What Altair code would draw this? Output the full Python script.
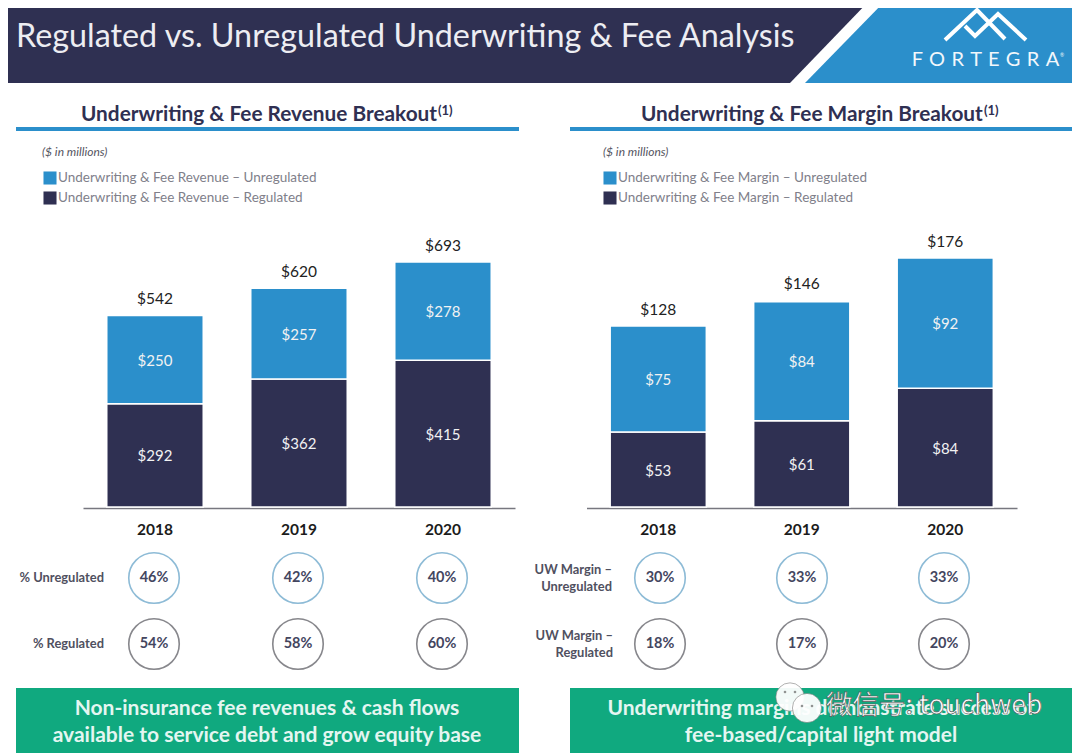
import altair as alt
import pandas as pd

YEARS = ["2018", "2019", "2020"]
REV_UNREG = [250, 257, 278]
REV_REG = [292, 362, 415]
REV_TOTAL = [542, 620, 693]
MAR_UNREG = [75, 84, 92]
MAR_REG = [53, 61, 84]
MAR_TOTAL = [128, 146, 176]
PCT_UNREG = ["46%", "42%", "40%"]
PCT_REG = ["54%", "58%", "60%"]
UW_UNREG = ["30%", "33%", "33%"]
UW_REG = ["18%", "17%", "20%"]

NAVY = "#2F3052"
BLUE = "#2B8FCB"
GREEN = "#10A97F"
FONT = "Lato"

sx = alt.Scale(domain=[0, 1080], range=[-8, 1072], nice=False, zero=False)
sy = alt.Scale(domain=[0, 753], range=[-8, 745], nice=False, zero=False)
X = lambda f="x": alt.X(f, type="quantitative", scale=sx, axis=None)
X2 = lambda f="x2": alt.X2(f)
Y = lambda f="y": alt.Y(f, type="quantitative", scale=sy, axis=None)
Y2 = lambda f="y2": alt.Y2(f)


def text(rows, **mark):
    df = pd.DataFrame(rows, columns=["t", "x", "y"])
    opts = dict(font=FONT, baseline="middle", align="left", dy=1)
    opts.update(mark)
    return alt.Chart(df).mark_text(**opts).encode(x=X(), y=Y(), text="t:N")


def rects(rows, color):
    df = pd.DataFrame(rows, columns=["x", "x2", "y", "y2"])
    return alt.Chart(df).mark_rect(color=color).encode(x=X(), x2=X2(), y=Y(), y2=Y2())


def polygon(xs, tops, bottoms, color):
    df = pd.DataFrame({"x": xs, "y": tops, "y2": bottoms})
    return alt.Chart(df).mark_area(color=color, interpolate="linear").encode(x=X(), y=Y(), y2=Y2())


def stacked(names, reg, unreg, totals, band_range, domain, y_range, legend_x):
    rows = []
    for i, yr in enumerate(YEARS):
        rows.append(dict(year=yr, s=names[1], y0=0, y1=reg[i], v=f"${reg[i]}", total=""))
        rows.append(dict(year=yr, s=names[0], y0=reg[i], y1=reg[i] + unreg[i], v=f"${unreg[i]}", total=""))
    df = pd.DataFrame(rows)
    df["mid"] = (df.y0 + df.y1) / 2
    tot = pd.DataFrame({"year": YEARS, "y": totals, "t": [f"${v}" for v in totals]})

    xband = alt.Scale(domain=YEARS, range=band_range, paddingInner=0.33, paddingOuter=0.165)
    yq = alt.Scale(domain=domain, range=y_range, nice=False, zero=True)
    bars = alt.Chart(df).mark_bar(stroke="white", strokeWidth=1.5).encode(
        x=alt.X("year:N", scale=xband, title=None, axis=alt.Axis(
            orient="bottom", offset=-245, ticks=False, labelAngle=0, labelFont=FONT, labelFontWeight="bold",
            labelFontSize=15.5, labelColor="#1c1c1c", labelPadding=14, domainColor="#77777f",
            domainWidth=1.5, grid=False)),
        y=alt.Y("y0:Q", scale=yq, axis=None),
        y2="y1:Q",
        color=alt.Color("s:N", scale=alt.Scale(domain=names, range=[BLUE, NAVY]), legend=alt.Legend(
            orient="none", legendX=legend_x, legendY=163, title=None, symbolType="square", symbolSize=170,
            symbolStrokeWidth=0, labelFont=FONT, labelFontSize=13.5, labelColor="#80808a", rowPadding=6,
            labelOffset=1, padding=0, labelLimit=340)),
    )
    xpt = alt.Scale(domain=YEARS, range=band_range, paddingInner=0.33, paddingOuter=0.165)
    vals = alt.Chart(df).mark_text(font=FONT, fontSize=15, color="#f2f2f2", dy=1).encode(
        x=alt.X("year:N", scale=xpt, axis=None), y=alt.Y("mid:Q", scale=yq, axis=None), text="v:N")
    tops = alt.Chart(tot).mark_text(font=FONT, fontSize=15.5, color="#222222", dy=-16).encode(
        x=alt.X("year:N", scale=xpt, axis=None), y=alt.Y("y:Q", scale=yq, axis=None), text="t:N")
    return [bars, vals, tops]


def rings(labels_top, labels_bottom, centre_range):
    df = pd.DataFrame({
        "year": YEARS * 2,
        "row": ["top"] * 3 + ["bottom"] * 3,
        "t": labels_top + labels_bottom,
    })
    xp = alt.Scale(type="point", domain=YEARS, range=centre_range, padding=0)
    yp = alt.Scale(type="point", domain=["top", "bottom"], range=[570, 636], padding=0)
    circ = alt.Chart(df).mark_point(size=2550, filled=False, strokeWidth=1.6).encode(
        x=alt.X("year:N", scale=xp, axis=None),
        y=alt.Y("row:N", scale=yp, axis=None),
        stroke=alt.Stroke("row:N", scale=alt.Scale(domain=["top", "bottom"], range=["#5E9FC6", "#55555c"]), legend=None),
    )
    lab = alt.Chart(df).mark_text(font=FONT, fontSize=14.5, fontWeight="bold", color="#44465f").encode(
        x=alt.X("year:N", scale=xp, axis=None), y=alt.Y("row:N", scale=yp, axis=None), text="t:N")
    return [circ, lab]


layers = [
    polygon([0, 790, 870], [0, 0, 0], [83, 83, 0], NAVY),
    polygon([805, 886, 1080], [83, 0, 0], [83, 83, 83], BLUE),
    text([("Regulated vs. Unregulated Underwriting & Fee Analysis", 16, 36)], fontSize=32.3, color="#EDEDF2"),
]

logo = pd.DataFrame({
    "g": ["a"] * 3 + ["b"] * 4,
    "i": [0, 1, 2, 0, 1, 2, 3],
    "x": [945, 977, 1005, 1026, 998, 975, 965],
    "y": [40, 10, 39, 40, 14, 36, 26],
})
layers.append(alt.Chart(logo).mark_line(color="white", strokeWidth=4).encode(
    x=X(), y=Y(), detail="g:N", order="i:Q"))
layers.append(text([("F \u200aO \u200aR \u200aT \u200aE \u200aG \u200aR \u200aA", 985.5, 60)], fontSize=20, color="#F2F7FB", align="center", dy=0))
layers.append(text([("®", 1060, 54)], fontSize=5, color="#F2F7FB"))

layers += [
    text([("Underwriting & Fee Revenue Breakout", 81, 114), ("Underwriting & Fee Margin Breakout", 641, 114)],
         fontSize=20.8, fontWeight="bold", color=NAVY),
    text([("(1)", 438, 110), ("(1)", 984, 110)], fontSize=13, fontWeight="bold", color=NAVY),
    rects([(16, 519, 127, 131), (570, 1072, 127, 131)], BLUE),
    text([("($ in millions)", 42, 151), ("($ in millions)", 603, 151)], fontSize=12, fontStyle="italic", color="#55555f"),
]

layers += stacked(
    ["Underwriting & Fee Revenue \u2013 Unregulated", "Underwriting & Fee Revenue \u2013 Regulated"],
    REV_REG, REV_UNREG, REV_TOTAL, [75, 507], [0, 693], [499, 254], 35)
layers += stacked(
    ["Underwriting & Fee Margin \u2013 Unregulated", "Underwriting & Fee Margin \u2013 Regulated"],
    MAR_REG, MAR_UNREG, MAR_TOTAL, [578.5, 1009], [0, 176], [499, 250], 595)

layers += rings(PCT_UNREG, PCT_REG, [146, 434])
layers += rings(UW_UNREG, UW_REG, [652, 936])

layers.append(text(
    [("% Unregulated", 104, 577), ("% Regulated", 104, 643),
     ("UW Margin \u2013", 612, 569), ("Unregulated", 612, 586),
     ("UW Margin \u2013", 613, 635), ("Regulated", 613, 652)],
    fontSize=12.9, fontWeight="bold", color="#50505f", align="right"))

layers.append(rects([(16, 519, 688, 753), (570, 1072, 688, 753)], GREEN))
layers.append(text(
    [("Non-insurance fee revenues & cash flows", 267, 708),
     ("available to service debt and grow equity base", 267, 735),
     ("Underwriting margins demonstrate success of", 821, 708),
     ("fee-based/capital light model", 821, 735)],
    fontSize=21, fontWeight="bold", color="#E4F6F1", align="center"))

# watermark
bubble = pd.DataFrame({"x": [790, 807], "y": [697, 708], "s": [800, 850]})
layers.append(alt.Chart(bubble).mark_point(filled=True, fill="white", stroke="#777777", strokeWidth=0.6, opacity=0.95).encode(
    x=X(), y=Y(), size=alt.Size("s:Q", scale=None)))
dots = pd.DataFrame({"x": [785, 795, 802, 812], "y": [692, 692, 706, 706]})
layers.append(alt.Chart(dots).mark_point(filled=True, color="#666666", size=7).encode(x=X(), y=Y()))
layers.append(text([("\u5fae\u4fe1\u53f7: touchweb", 826, 705)], font="Noto Sans CJK SC", fontSize=26.5,
                   color="white", stroke="#555555", strokeWidth=0.6))

chart = alt.layer(*layers).resolve_scale(
    x="independent", y="independent", color="independent", stroke="independent"
).properties(
    width=1064, height=745, padding=0, autosize=alt.AutoSizeParams(type="none")
).configure_view(stroke=None)

chart.save("out.html", embed_options={"renderer": "svg", "actions": False})
